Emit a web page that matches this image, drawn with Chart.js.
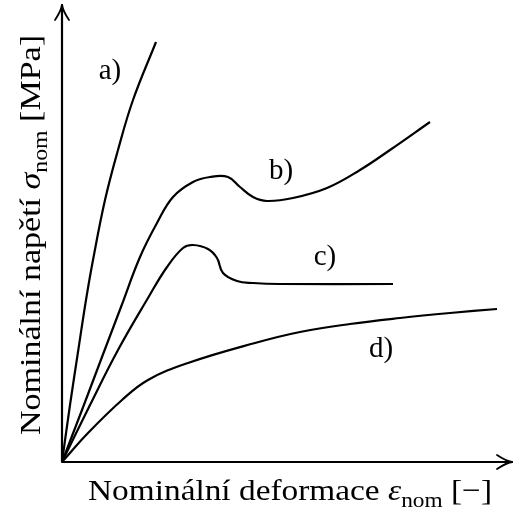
<!DOCTYPE html>
<html>
<head>
<meta charset="utf-8">
<script src="https://cdn.jsdelivr.net/npm/chart.js@4"></script>
<style>
  html, body { margin: 0; padding: 0; background: #fff; }
  #wrap { width: 514px; height: 510px; }
</style>
</head>
<body>
<div id="wrap"><canvas id="chart" width="514" height="510"></canvas></div>
<script>
// curve a) (relative strain / stress units, read from picture)
const aX = [0, 8, 16, 24, 31, 43, 56, 71, 94];
const aY = [0, 57, 110, 162, 202, 262, 312, 362, 420];
// curve b)
const bX = [0, 20, 40, 59, 78, 95, 111, 131, 148, 166, 178, 191, 205, 231, 265, 298, 328, 368];
const bY = [0, 52, 105, 155, 205, 239, 265, 280, 285, 285, 275, 265, 261, 264, 274, 292, 312, 340];
// curve c)
const cX = [0, 28, 56, 86, 105, 121, 131, 146, 155, 161, 175, 191, 218, 331];
const cY = [0, 57, 112, 164, 195, 214, 217, 213, 204, 189, 181, 179, 178, 178];
// curve d)
const dX = [0, 26, 60, 86, 126, 193, 238, 288, 338, 388, 435];
const dY = [0, 29, 62, 82, 99, 119, 130, 138, 144, 149, 153];

const curveNames = ['a)', 'b)', 'c)', 'd)'];
const labelX = [48, 219, 263, 319];
const labelY = [391, 291, 205, 113];

const xTitle = ['Nominální deformace ', 'ε', 'nom', ' [−]'];
const yTitle = ['Nominální napětí ', 'σ', 'nom', ' [MPa]'];

const serif = '"Liberation Serif", "DejaVu Serif", serif';

function toPts(xs, ys) {
  return xs.map((x, i) => ({x: x, y: ys[i]}));
}

function makeSet(xs, ys) {
  return {
    data: toPts(xs, ys),
    borderColor: '#000',
    borderWidth: 2.2,
    pointRadius: 0,
    fill: false,
    tension: 0.4
  };
}

// draw title with subscript, centered at 0,0, stretched to width w
function drawTitle(ctx, parts, size, w) {
  const big = size + 'px ' + serif;
  const ital = 'italic ' + size + 'px ' + serif;
  const small = Math.round(size * 0.7) + 'px ' + serif;
  const fonts = [big, ital, small, big];
  let widths = parts.map((p, i) => { ctx.font = fonts[i]; return ctx.measureText(p).width; });
  let total = widths.reduce((s, wd) => s + wd, 0);
  ctx.scale(w / total, 1);
  let x = -total / 2;
  parts.forEach((p, i) => {
    ctx.font = fonts[i];
    ctx.fillText(p, x, i === 2 ? size * 0.22 : 0);
    x += widths[i];
  });
}

const decor = {
  id: 'decor',
  afterDatasetsDraw(chart) {
    const ctx = chart.ctx;
    const xs = chart.scales.x, ys = chart.scales.y;
    const x0 = xs.getPixelForValue(0), y0 = ys.getPixelForValue(0);
    const xEnd = xs.getPixelForValue(xs.max), yEnd = ys.getPixelForValue(ys.max);
    ctx.save();
    ctx.strokeStyle = '#000';
    ctx.lineWidth = 2.2;
    ctx.lineCap = 'round';
    ctx.lineJoin = 'round';
    // axes
    ctx.beginPath();
    ctx.moveTo(x0, y0); ctx.lineTo(xEnd, y0);
    ctx.moveTo(x0, y0); ctx.lineTo(x0, yEnd);
    ctx.stroke();
    // arrow heads
    ctx.lineWidth = 1.8;
    ctx.beginPath();
    ctx.moveTo(x0 - 7, yEnd + 15); ctx.quadraticCurveTo(x0 - 1, yEnd + 6, x0, yEnd);
    ctx.quadraticCurveTo(x0 + 1, yEnd + 6, x0 + 7, yEnd + 15);
    ctx.moveTo(xEnd - 15, y0 - 7); ctx.quadraticCurveTo(xEnd - 6, y0 - 1, xEnd, y0);
    ctx.quadraticCurveTo(xEnd - 6, y0 + 1, xEnd - 15, y0 + 7);
    ctx.stroke();
    // curve labels
    ctx.fillStyle = '#000';
    ctx.font = '29px ' + serif;
    ctx.textAlign = 'center';
    ctx.textBaseline = 'middle';
    curveNames.forEach((n, i) => {
      ctx.fillText(n, xs.getPixelForValue(labelX[i]), ys.getPixelForValue(labelY[i]));
    });
    // axis titles
    ctx.textAlign = 'left';
    ctx.textBaseline = 'alphabetic';
    ctx.save();
    ctx.translate(290, 500);
    drawTitle(ctx, xTitle, 30, 404);
    ctx.restore();
    ctx.save();
    ctx.translate(40, 235);
    ctx.rotate(-Math.PI / 2);
    drawTitle(ctx, yTitle, 30, 400);
    ctx.restore();
    ctx.restore();
  }
};

new Chart(document.getElementById('chart'), {
  type: 'line',
  data: {
    datasets: [makeSet(aX, aY), makeSet(bX, bY), makeSet(cX, cY), makeSet(dX, dY)]
  },
  options: {
    responsive: false,
    animation: false,
    layout: { padding: { left: 62, top: 5, right: 2, bottom: 48 } },
    plugins: { legend: { display: false }, tooltip: { enabled: false } },
    scales: {
      x: { type: 'linear', min: 0, max: 450, display: false },
      y: { type: 'linear', min: 0, max: 457, display: false }
    }
  },
  plugins: [decor]
});
</script>
</body>
</html>
